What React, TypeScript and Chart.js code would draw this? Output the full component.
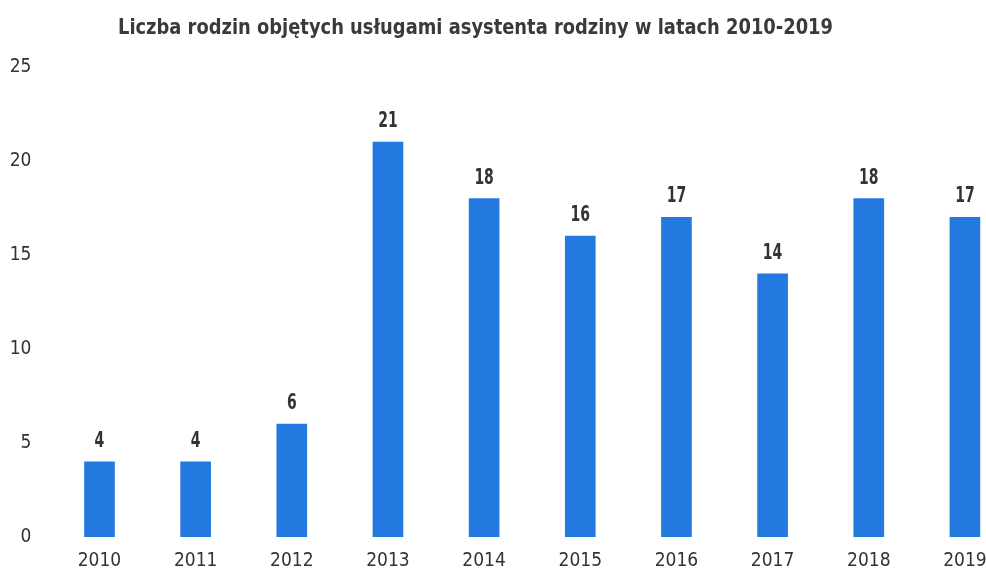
import React, { useEffect, useRef } from "react";
import { Chart, registerables } from "chart.js";

Chart.register(...registerables);

const TITLE = "Liczba rodzin objętych usługami asystenta rodziny w latach 2010-2019";
const years = ["2010", "2011", "2012", "2013", "2014", "2015", "2016", "2017", "2018", "2019"];
const families = [4, 4, 6, 21, 18, 16, 17, 14, 18, 17];
const yTicks = [0, 5, 10, 15, 20, 25];

const FONT = '"DejaVu Sans Condensed", "Liberation Sans Narrow", sans-serif';
const TEXT = "#333333";
const BAR = "#2479e0";

const titlePlugin = {
  id: "pageTitle",
  afterDraw(chart: any) {
    const ctx = chart.ctx;
    ctx.save();
    ctx.font = `bold 22px ${FONT}`;
    ctx.fillStyle = "#3a3a3a";
    ctx.textAlign = "center";
    ctx.textBaseline = "middle";
    const w = ctx.measureText(TITLE).width;
    ctx.translate(475.5, 28);
    ctx.scale(715 / w, 1);
    ctx.fillText(TITLE, 0, 0);
    ctx.restore();
  },
};

const valuePlugin = {
  id: "valueLabels",
  afterDatasetsDraw(chart: any) {
    const ctx = chart.ctx;
    const meta = chart.getDatasetMeta(0);
    ctx.font = `bold 21px ${FONT}`;
    ctx.fillStyle = TEXT;
    ctx.textAlign = "center";
    ctx.textBaseline = "alphabetic";
    meta.data.forEach((bar: any, i: number) => {
      ctx.save();
      ctx.translate(bar.x, bar.y - 15);
      ctx.scale(0.74, 1);
      ctx.fillText(String(families[i]), 0, 0);
      ctx.restore();
    });
  },
};

export default function App() {
  const ref = useRef<HTMLCanvasElement | null>(null);

  useEffect(() => {
    document.documentElement.style.overflow = "hidden";
    document.body.style.margin = "0";
    document.body.style.overflow = "hidden";
    if (!ref.current) return;
    const chart = new Chart(ref.current, {
      type: "bar",
      data: {
        labels: years,
        datasets: [
          {
            data: families,
            backgroundColor: BAR,
            borderWidth: 0,
            barThickness: 30,
          },
        ],
      },
      options: {
        responsive: false,
        animation: false,
        layout: { padding: { top: 67, right: 17, left: 0, bottom: 0 } },
        plugins: {
          legend: { display: false },
          title: { display: false },
          tooltip: { enabled: false },
        },
        scales: {
          x: {
            grid: { display: false, drawTicks: false },
            border: { display: false },
            afterFit: (scale: any) => {
              scale.height = 38;
            },
            ticks: {
              color: TEXT,
              padding: 13,
              font: { family: FONT, size: 19 },
            },
          },
          y: {
            min: 0,
            max: 25,
            grid: { display: false, drawTicks: false },
            border: { display: false },
            afterBuildTicks: (scale: any) => {
              scale.ticks = yTicks.map((v) => ({ value: v }));
            },
            afterFit: (scale: any) => {
              scale.width = 51.4;
            },
            ticks: {
              color: TEXT,
              padding: 20,
              font: { family: FONT, size: 19 },
            },
          },
        },
      },
      plugins: [titlePlugin, valuePlugin],
    });
    return () => chart.destroy();
  }, []);

  return (
    <div style={{ position: "fixed", left: 0, top: 0, width: 1030, height: 575 }}>
      <canvas ref={ref} width={1030} height={575} />
    </div>
  );
}
